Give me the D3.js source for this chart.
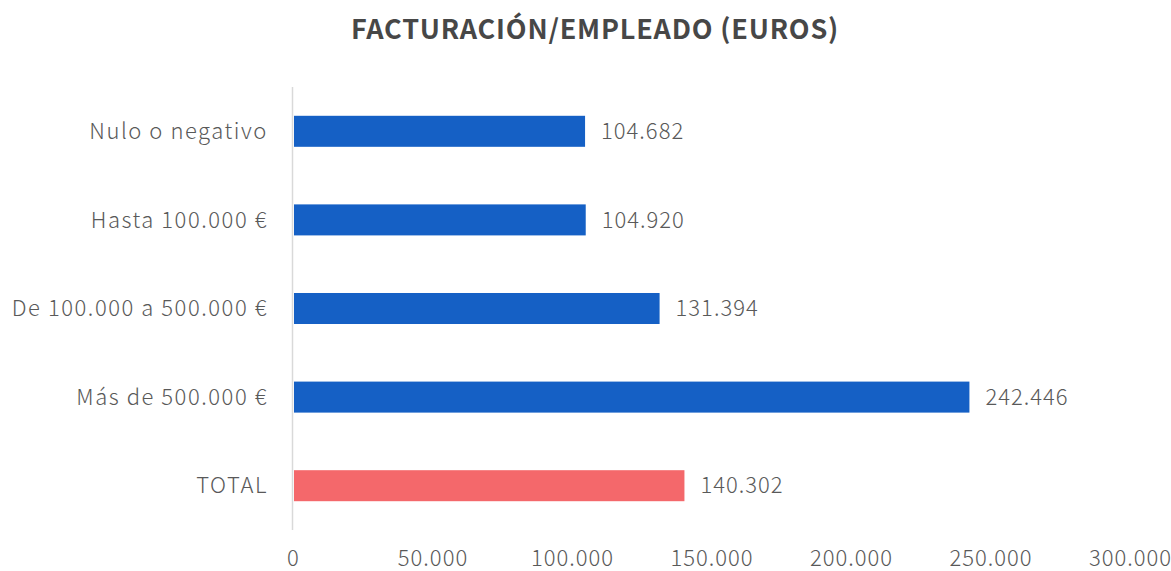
<!DOCTYPE html>
<html>
<head>
<meta charset="utf-8">
<script src="https://cdn.jsdelivr.net/npm/d3@7"></script>
<style>
  body { margin: 0; background: #fff; }
  text { font-family: "Noto Sans CJK JP", "Noto Sans", sans-serif; }
</style>
</head>
<body>
<svg id="chart"></svg>
<script>
// data
const categories = ["Nulo o negativo", "Hasta 100.000 €", "De 100.000 a 500.000 €", "Más de 500.000 €", "TOTAL"];
const values = [104682, 104920, 131394, 242446, 140302];
const barColors = ["#1560C5", "#1560C5", "#1560C5", "#1560C5", "#F4686B"];
const tickValues = [0, 50000, 100000, 150000, 200000, 250000, 300000];
const title = "FACTURACIÓN/EMPLEADO (EUROS)";

const width = 1171, height = 571;
const svg = d3.select("#chart").attr("width", width).attr("height", height);

const fmt = v => d3.format(",")(v).replace(/,/g, ".");

let x = d3.scaleLinear()
  .domain([0, 300000])
  .range([293, 1130]);

let y = d3.scaleBand()
  .domain(categories)
  .range([87, 530])
  .paddingInner(0.65)
  .paddingOuter(0.325);

// vertical axis line
svg.append("line")
  .attr("x1", 292.5).attr("x2", 292.5)
  .attr("y1", 87).attr("y2", 530)
  .style("stroke", "#d9d9d9")
  .style("stroke-width", 1.5);

// bars
svg.append("g")
  .selectAll("rect")
  .data(values)
  .enter()
  .append("rect")
  .attr("x", x(0) + 1)
  .attr("y", (d, i) => y(categories[i]))
  .attr("width", d => x(d) - x(0) - 1)
  .attr("height", y.bandwidth())
  .style("fill", (d, i) => barColors[i]);

// value labels
svg.append("g")
  .selectAll("text")
  .data(values)
  .enter()
  .append("text")
  .attr("x", d => x(d) + 16)
  .attr("y", (d, i) => y(categories[i]) + y.bandwidth() / 2)
  .attr("dy", "0.35em")
  .style("font-size", "22px")
  .style("font-weight", 300)
  .style("letter-spacing", "1px")
  .style("fill", "#595959")
  .text(d => fmt(d));

// category labels
svg.append("g")
  .selectAll("text")
  .data(categories)
  .enter()
  .append("text")
  .attr("x", 268)
  .attr("y", d => y(d) + y.bandwidth() / 2)
  .attr("dy", "0.35em")
  .style("text-anchor", "end")
  .style("font-size", "22px")
  .style("font-weight", 300)
  .style("letter-spacing", "1.55px")
  .style("fill", "#595959")
  .text(d => d);

// x axis
let xaxis = d3.axisBottom(x)
  .tickValues(tickValues)
  .tickFormat(fmt)
  .tickSize(0)
  .tickPadding(0);

let gx = svg.append("g")
  .attr("transform", "translate(0, 546)")
  .call(xaxis);
gx.select(".domain").remove();
gx.selectAll("text")
  .attr("dy", "0.35em")
  .attr("y", 12)
  .style("font-family", "'Noto Sans CJK JP', 'Noto Sans', sans-serif")
  .style("font-size", "22px")
  .style("font-weight", 300)
  .style("letter-spacing", "1px")
  .style("fill", "#595959");

// title
svg.append("text")
  .attr("x", 595)
  .attr("y", 30)
  .attr("dy", "0.35em")
  .style("text-anchor", "middle")
  .style("font-weight", 700)
  .style("font-size", "27px")
  .style("letter-spacing", "0.8px")
  .style("fill", "#474747")
  .text(title);
</script>
</body>
</html>
